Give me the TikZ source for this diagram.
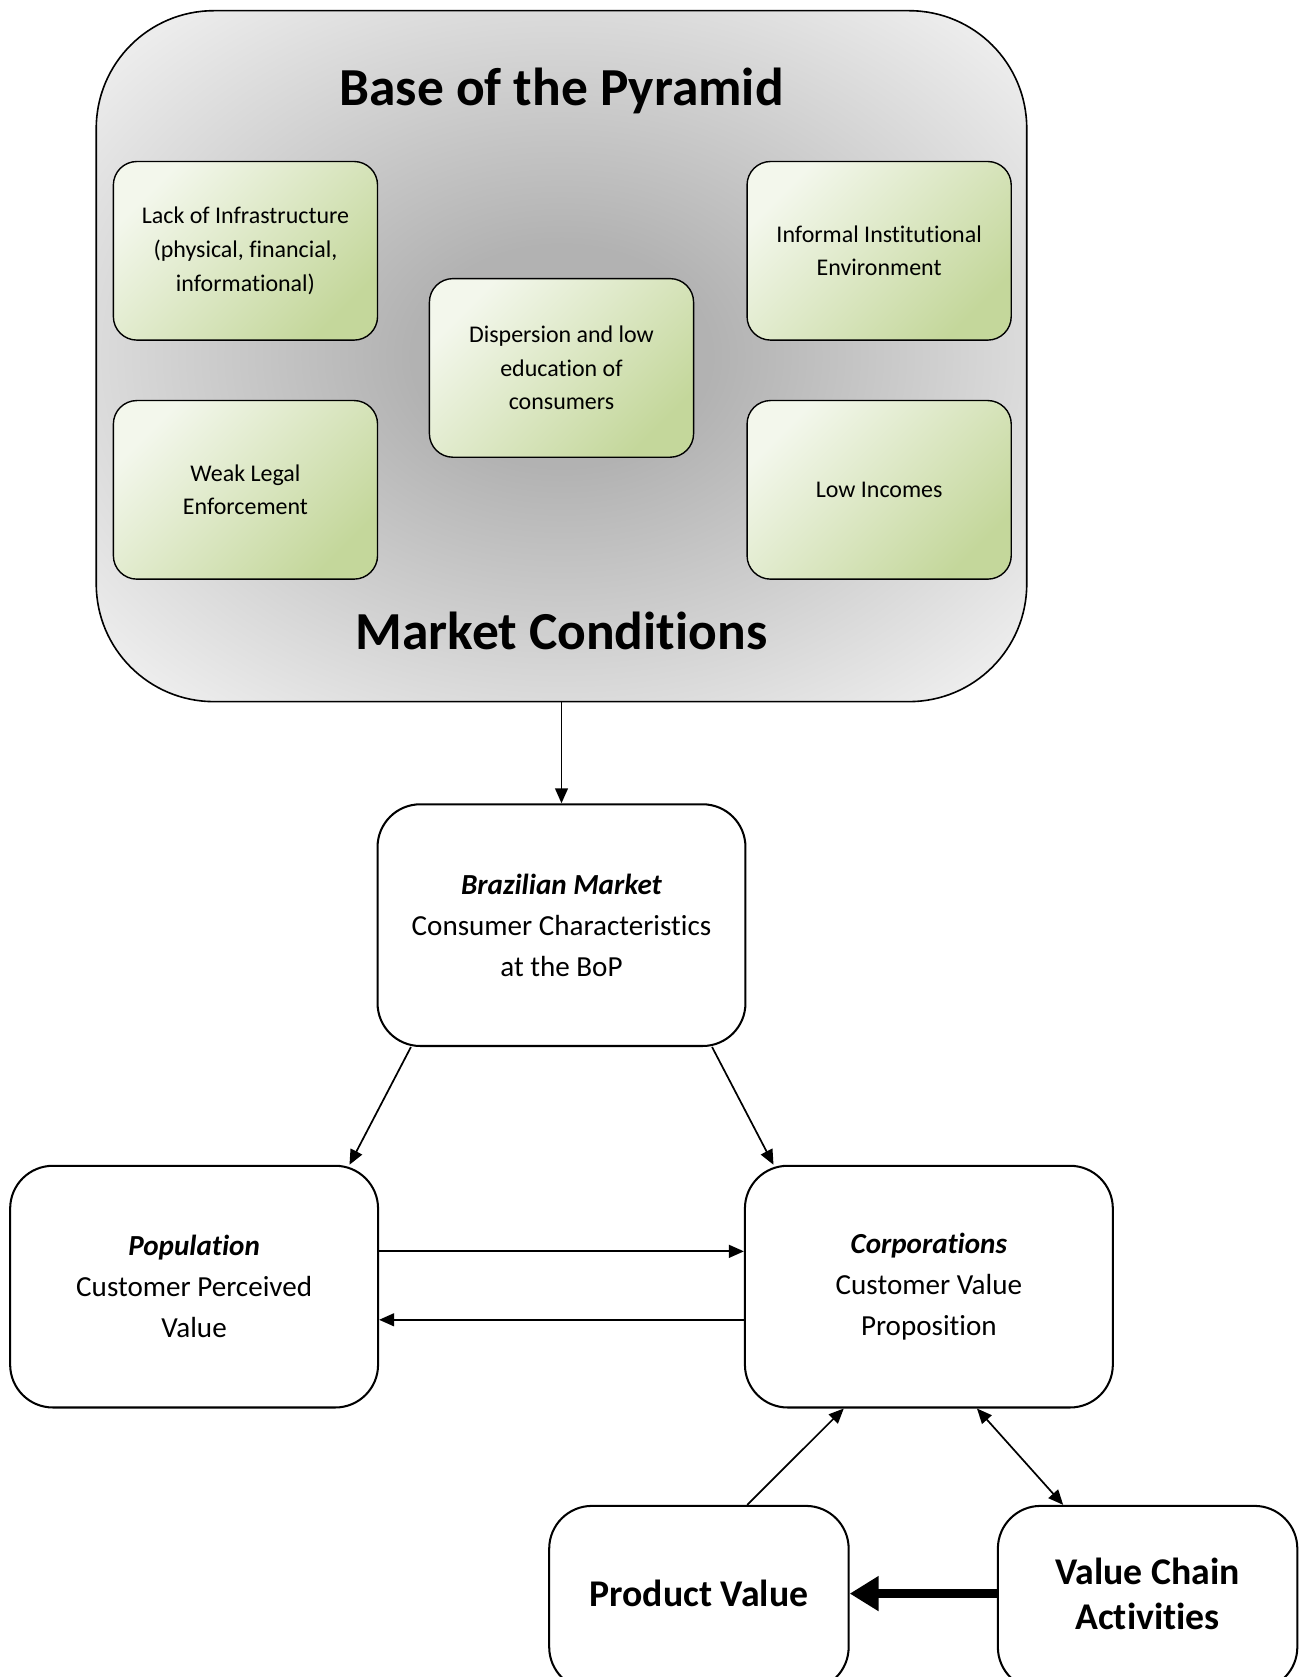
\documentclass[tikz,border=0pt]{standalone}
\usepackage{fontspec}
\setmainfont[Ligatures={NoCommon,NoRare,NoContextual}]{Carlito}
\usetikzlibrary{arrows.meta,calc}

\definecolor{leafhi}{HTML}{F3F7EC}
\definecolor{leaflo}{HTML}{C4D79B}
\definecolor{hazedark}{HTML}{B2B2B2}
\definecolor{hazelight}{HTML}{ECECEC}
\pgfdeclareradialshading{bophaze}{\pgfpoint{0bp}{0bp}}{color(0bp)=(hazedark); color(8bp)=(hazedark); color(32bp)=(hazelight); color(50bp)=(hazelight)}

\tikzset{
  factor/.style={draw, line width=1.3pt, rounded corners=22pt,
    minimum width=247pt, minimum height=167pt, inner sep=0pt,
    top color=leafhi, bottom color=leaflo, shading angle=45,
    align=center, font=\fontsize{22.4}{31.5}\selectfont},
  stage/.style={draw, fill=white, line width=1.9pt, rounded corners=40pt,
    minimum width=344pt, minimum height=226pt, inner sep=0pt,
    align=center, font=\fontsize{27.2}{38.5}\selectfont},
  corner/.style={draw, fill=white, line width=1.9pt, rounded corners=40pt,
    minimum width=280pt, minimum height=172pt, inner sep=0pt},
  bigtitle/.style={font=\bfseries\fontsize{50}{50}\selectfont, anchor=base},
  cornertext/.style={align=center, font=\bfseries\fontsize{35.3}{42}\selectfont},
  link/.style={line width=1.6pt, -{Triangle[length=14pt,width=12pt]}},
  twoway/.style={line width=1.6pt, {Triangle[length=14pt,width=12pt]}-{Triangle[length=14pt,width=12pt]}},
  heavy/.style={line width=9pt, -{Triangle[length=27pt,width=31pt]}}
}

\begin{document}
\begin{tikzpicture}[x=1pt, y=-1pt]
  \clip (0,0) rectangle (1214,1568);

  % market conditions panel
  \node[draw, line width=1.5pt, rounded corners=110pt, shading=bophaze,
        minimum width=870pt, minimum height=646pt, inner sep=0pt] (bop) at (525,333) {};
  \node[bigtitle] (bopt) at (525,98.5) {Base of the Pyramid};
  \node[bigtitle] (mkt) at (525,607) {Market Conditions};

  \node[factor] (infra) at (229.5,234.5) {Lack of Infrastructure\\(physical, financial,\\informational)};
  \node[factor] (inst)  at (822,234.5)   {Informal Institutional\\Environment};
  \node[factor] (disp)  at (525,344)     {Dispersion and low\\education of\\consumers};
  \node[factor] (weak)  at (229.5,458)   {Weak Legal\\Enforcement};
  \node[factor] (low)   at (822,458)     {Low Incomes};

  % value chain part
  \node[stage] (bm)   at (525,865)    {\textbf{\textit{Brazilian Market}}\\Consumer Characteristics\\at the BoP};
  \node[stage] (pop)  at (181.5,1203) {\textbf{\textit{Population}}\\Customer Perceived\\Value};
  \node[stage] (corp) at (868.5,1203) {\textbf{\textit{Corporations}}\\Customer Value\\Proposition};

  \node[corner] (pv) at (653.5,1494) {};
  \node[corner] (vc) at (1073,1494)  {};
  \node[cornertext] (pvt) at (653.5,1490) {Product Value};
  \node[cornertext] (vct) at (1073,1490)  {Value Chain\\Activities};

  % connectors
  \draw[link] (bop.south) -- (bm.north);
  \draw[link] ($(bm.south west)!0.093!(bm.south east)$) -- ($(pop.north west)!0.92!(pop.north east)$);
  \draw[link] ($(bm.south west)!0.907!(bm.south east)$) -- ($(corp.north west)!0.08!(corp.north east)$);
  \draw[link] ($(pop.east)+(0,-33)$) -- ($(corp.west)+(0,-33)$);
  \draw[link] ($(corp.west)+(0,31)$) -- ($(pop.east)+(0,31)$);
  \draw[link] ($(pv.north west)!0.66!(pv.north east)$) -- ($(corp.south west)!0.27!(corp.south east)$);
  \draw[twoway] ($(corp.south west)!0.63!(corp.south east)$) -- ($(vc.north west)!0.22!(vc.north east)$);
  \draw[heavy] (vc.west |- pvt.center) -- (pv.east |- pvt.center);
\end{tikzpicture}
\end{document}
